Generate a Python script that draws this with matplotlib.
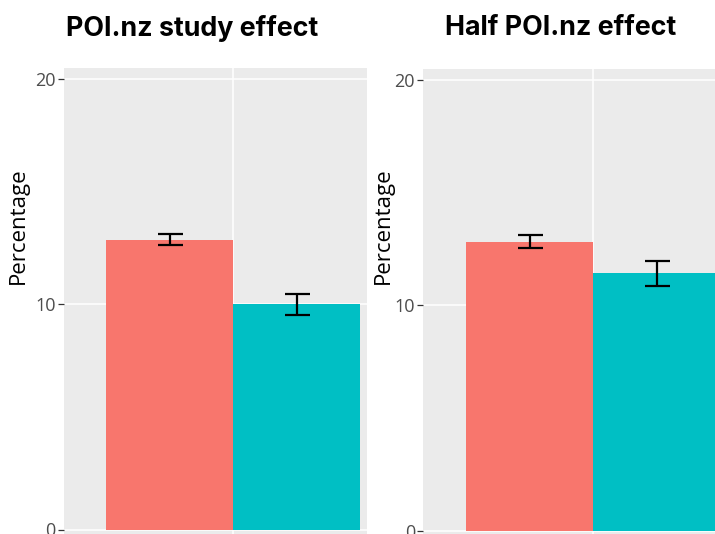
import matplotlib
matplotlib.use("Agg")
import matplotlib.pyplot as plt

W, H = 715, 534

panel_titles = ["POI.nz study effect", "Half POI.nz effect"]
groups = ["A", "B"]
means_study = [12.87, 10.0]
err_study = [0.26, 0.46]
means_half = [12.82, 11.42]
err_half = [0.28, 0.54]
yticks = [0, 10, 20]
ytick_labels = ["0", "10", "20"]
bar_colors = ["#F8766D", "#00BFC4"]

fig = plt.figure(figsize=(W / 100, H / 100), dpi=100)

def make_axes(left_px, top_px, bottom_px, zero_px, twenty_px, xl, xr, unit_px):
    scale = (zero_px - twenty_px) / 20.0
    ytop = 20 + (twenty_px - top_px) / scale
    ybot = (zero_px - bottom_px) / scale
    width_px = (xr - xl) * unit_px
    ax = fig.add_axes([left_px / W, (H - bottom_px) / H, width_px / W, (bottom_px - top_px) / H])
    ax.set_xlim(xl, xr)
    ax.set_ylim(ybot, ytop)
    return ax, left_px, width_px, top_px, bottom_px

axes_info = [make_axes(64, 68, 534, 529.5, 79, -0.667, 0.526, 254),
             make_axes(423.3, 69, 534, 530.7, 80, -0.668, 0.6, 254.6)]
label_right_px = [28.5, 393.5]
label_center_y_px = 226

data = [(means_study, err_study), (means_half, err_half)]

for (ax, lpx, wpx, tpx, bpx), (means, errs), lr in zip(axes_info, data, label_right_px):
    ax.set_facecolor("#EBEBEB")
    for s in ax.spines.values():
        s.set_visible(False)
    xs = [-0.25, 0.25]
    ax.bar(xs, means, width=0.5, color=bar_colors, zorder=2)
    ax.errorbar(xs, means, yerr=errs, fmt="none", ecolor="black",
                elinewidth=1.6, capsize=9, capthick=1.6, zorder=3)
    ax.set_yticks(yticks)
    ax.set_yticklabels(ytick_labels, fontfamily="Open Sans", fontsize=13, color="#4D4D4D")
    ax.set_xticks([0])
    ax.set_xticklabels([])
    ax.tick_params(axis="y", length=4, width=0.9, color="#333333", pad=2)
    ax.tick_params(axis="x", length=0)
    ax.grid(True, color="white", linewidth=1.1, zorder=0)
    ax.set_axisbelow(True)
    ax.set_ylabel("Percentage", fontfamily="Open Sans", fontsize=16, color="black")
    ax.yaxis.set_label_coords((lr - lpx) / wpx, (bpx - label_center_y_px) / (bpx - tpx))

fig.text(192 / W, 1 - 28 / H, panel_titles[0], fontfamily="Inter", fontweight="bold",
         fontsize=19.3, ha="center", va="center")
fig.text(561 / W, 1 - 28 / H, panel_titles[1], fontfamily="Inter", fontweight="bold",
         fontsize=19.3, ha="center", va="center")

fig.savefig("out.png", dpi=100)
